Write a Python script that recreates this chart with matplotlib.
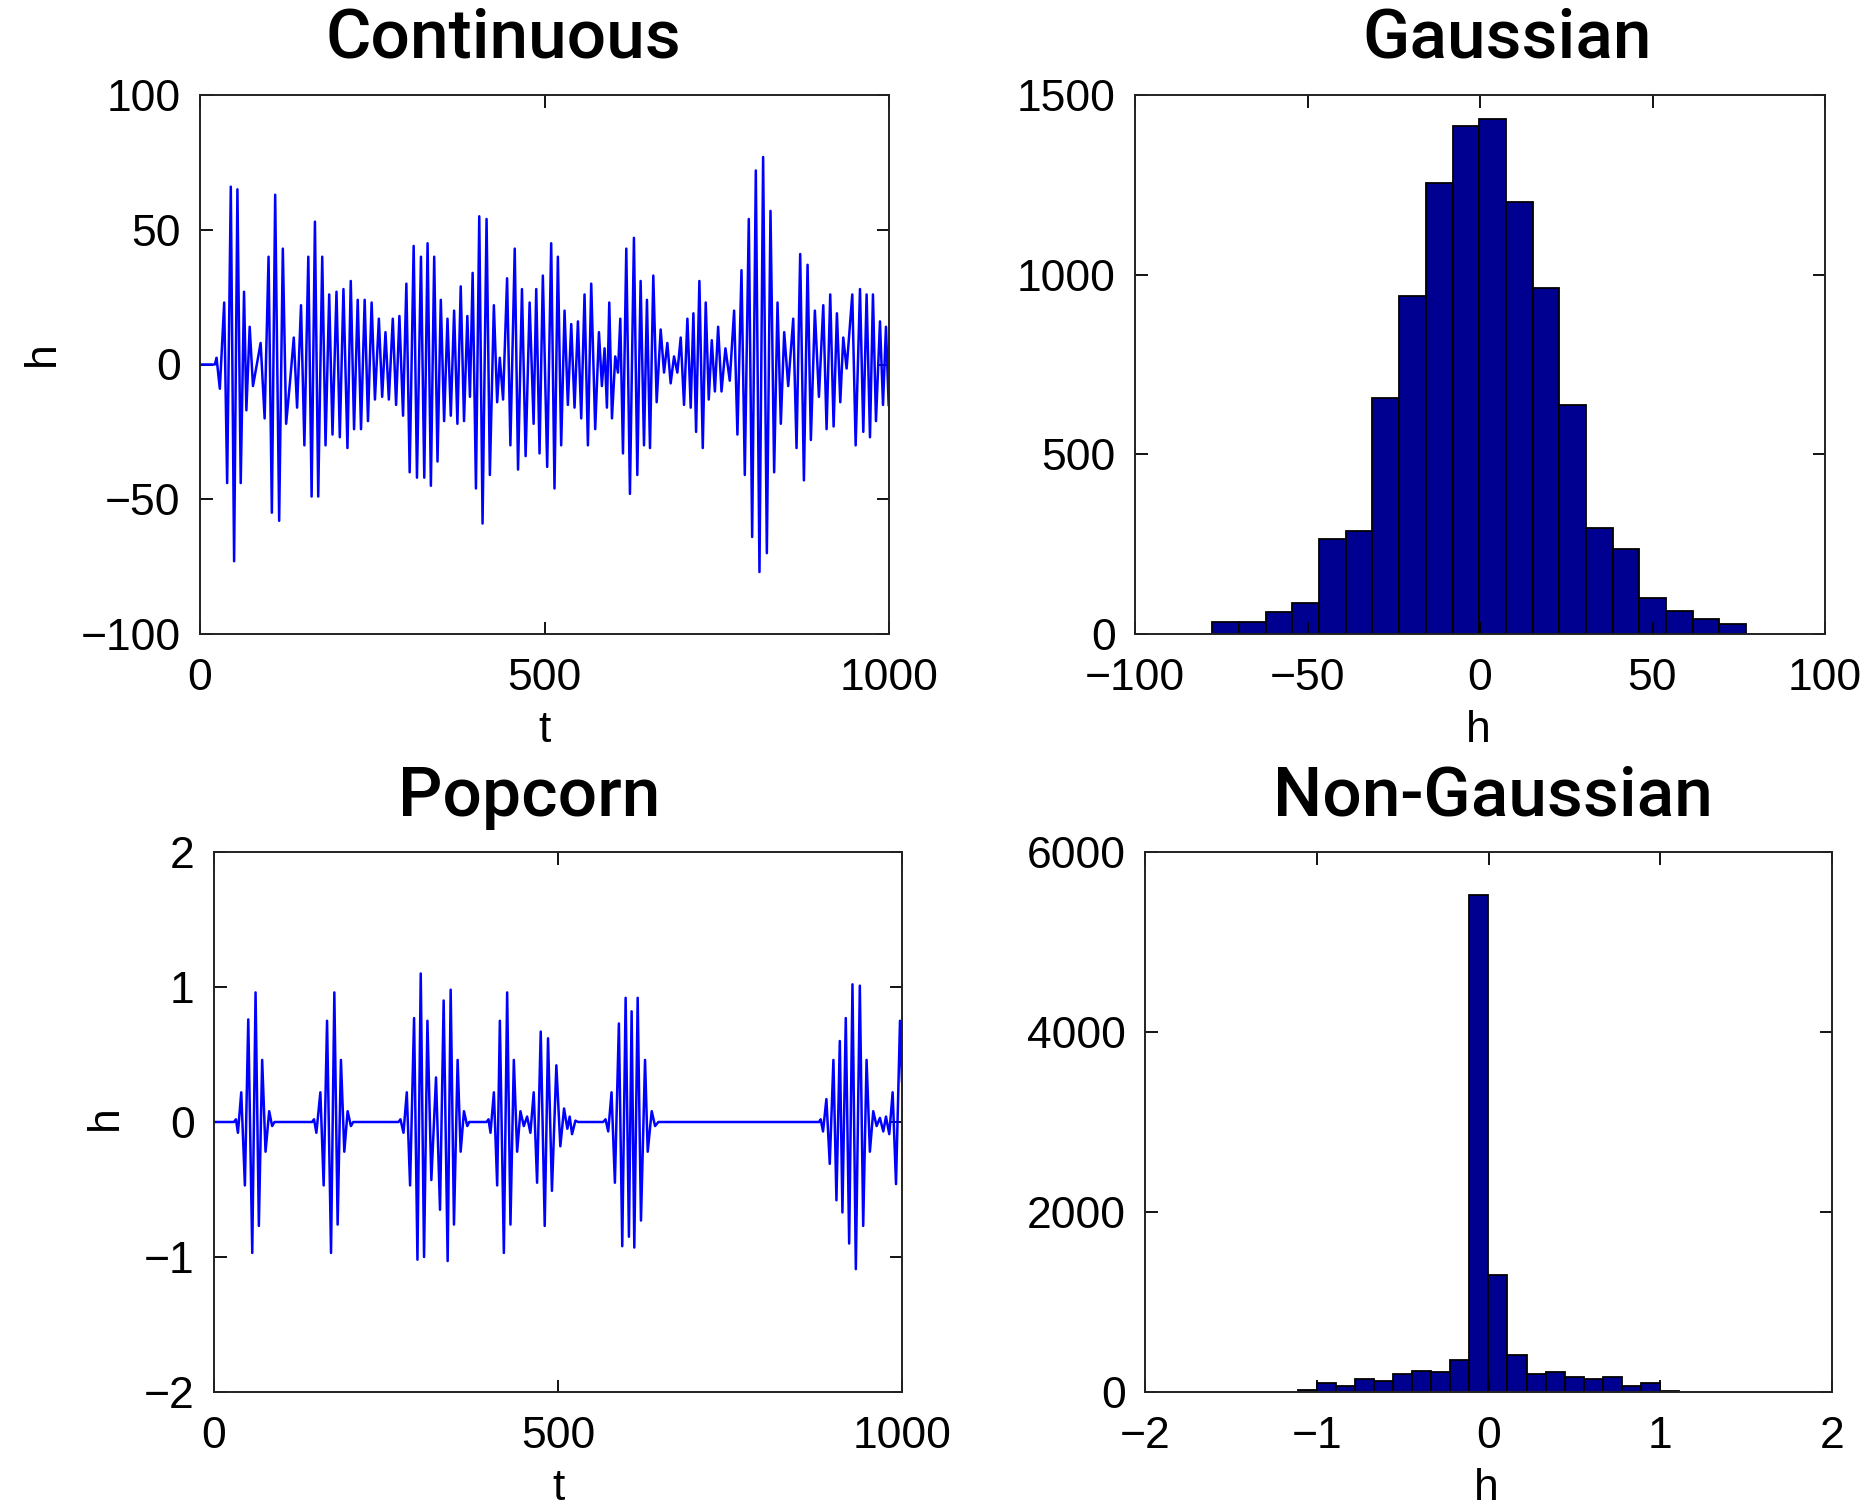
import matplotlib
matplotlib.use("Agg")
import matplotlib.pyplot as plt

plt.rcParams['font.family'] = ['Liberation Sans', 'DejaVu Sans']

# ---------------- data ----------------
# Continuous signal: local extrema (t, h)
cont_t = [0, 21.6, 24.0, 28.8, 35.1, 39.4, 44.7, 49.5, 54.3, 59.1, 63.9, 67.3, 72.1, 76.9, 88.0,
          93.8, 99.5, 104.3, 109.1, 114.9, 120.2, 125.0, 130.8, 136.1, 140.9, 146.6, 151.5, 157.2,
          162.0, 166.8, 171.6, 177.4, 182.2, 187.5, 192.3, 198.1, 202.9, 208.2, 214.0, 218.8, 223.6,
          228.9, 233.7, 239.0, 243.8, 249.1, 253.9, 259.6, 264.4, 269.2, 274.1, 279.8, 284.6, 289.4,
          294.7, 299.5, 304.3, 310.1, 314.9, 320.7, 325.5, 330.3, 335.1, 339.9, 344.7, 349.5, 354.3,
          359.2, 364.0, 368.8, 373.6, 378.4, 383.2, 388.0, 391.8, 395.7, 400.5, 405.3, 410.1, 415.9,
          420.7, 426.5, 431.3, 435.1, 439.9, 445.7, 450.5, 456.8, 461.6, 467.3, 472.6, 478.4, 484.2,
          488.0, 492.8, 497.6, 503.9, 509.7, 514.5, 519.4, 524.2, 529.1, 533.9, 538.8, 543.6, 548.5,
          553.3, 558.1, 563.0, 567.8, 573.6, 579.0, 583.3, 587.2, 590.6, 594.0, 597.9, 602.7, 606.6,
          610.0, 613.9, 618.7, 624.0, 629.8, 634.7, 639.5, 644.4, 648.7, 653.1, 657.9, 662.8, 668.6,
          673.5, 678.3, 683.1, 688.0, 692.8, 697.7, 702.5, 707.4, 712.2, 716.1, 720.0, 724.8, 729.7,
          734.0, 738.4, 742.8, 747.3, 752.0, 756.9, 762.6, 768.9, 775.2, 780.0, 785.9, 790.7, 796.5,
          801.4, 806.7, 812.0, 817.3, 822.7, 828.0, 833.3, 838.2, 843.0, 847.9, 853.7, 861.0, 865.8,
          871.1, 876.5, 881.8, 886.6, 892.4, 898.3, 904.6, 909.4, 914.7, 919.6, 924.4, 929.3, 933.6,
          938.5, 946.7, 951.6, 957.9, 962.7, 967.5, 972.4, 976.7, 981.1, 986.9, 991.3, 995.6, 999.5]
cont_h = [0, 0, 2.5, -9, 23, -44, 66, -73, 65, -44, 27, -17, 14, -8, 8,
          -20, 40, -55, 63, -58, 43, -22, -6, 10, -16, 22, -30, 40,
          -49, 53, -49, 40, -30, 26, -26, 27, -27, 28, -31, 31, -24,
          24, -24, 24, -21, 23, -13, 17, -12, 12, -13, 17, -15, 18,
          -19, 30, -40, 44, -42, 40, -42, 45, -45, 40, -36, 24, -21,
          17, -19, 20, -22, 29, -21, 18, -12, 34, -46, 55, -59, 54,
          -41, 22, -14, 2.5, -13, 32, -30, 43, -39, 28, -34, 23, -22,
          28, -33, 33, -38, 45, -46, 40, -30, 20, -15, 15, -16, 16,
          -20, 26, -30, 30, -24, 12, -8, 6, -16, 23, -20, 3, -3,
          17, -33, 43, -48, 47, -41, 31, -30, 24, -31, 33, -14, 13,
          -3, 8, -7, 3, -3, 10, -15, 17, -16, 19, -25, 31, -31,
          23, -13, 9, -10, 14, -10, 6, -6, 20, -26, 35, -41, 54,
          -64, 72, -77, 77, -70, 57, -40, 23, -22, 12, -8, 17, -31,
          41, -43, 37, -28, 20, -12, 22, -24, 26, -23, 19, -14, 10,
          -1.5, 26, -30, 28, -25, 26, -27, 26, -21, 16, -15, 14, -15]

# Popcorn signal: local extrema (t, h)
pop_t = [0, 29.0, 31.9, 34.8, 39.6, 44.9, 49.8, 55.6, 60.4, 65.2, 70.0, 74.9, 80.2, 84.5, 87.9,
         142.5, 145.4, 148.8, 154.6, 159.4, 164.3, 170.1, 174.9, 179.7, 184.5, 189.4, 194.2, 199.0, 202.4,
         268.1, 271.0, 275.4, 280.2, 285.0, 290.8, 295.7, 300.5, 305.3, 310.2, 315.9, 322.7, 328.5,
         333.8, 339.6, 344.0, 348.8, 354.1, 358.5, 363.3, 368.1, 371.0,
         396.1, 399.0, 401.9, 406.8, 411.6, 415.5, 421.3, 426.1, 430.9, 435.8, 440.6, 445.4, 450.3,
         455.1, 459.9, 464.7, 469.6, 474.9, 480.7, 485.5, 491.2, 497.6, 503.4, 508.8, 513.6, 517.0,
         520.4, 525.3, 529.2,
         565.7, 569.1, 573.0, 577.8, 582.7, 588.5, 593.4, 598.3, 603.1, 607.0, 610.9, 615.8, 620.6,
         626.5, 630.4, 636.2, 641.1, 645.9,
         879.4, 881.8, 885.2, 890.1, 895.0, 900.3, 904.7, 909.6, 913.4, 918.3, 923.2, 928.0, 932.9,
         938.7, 943.6, 948.5, 953.3, 958.2, 963.1, 967.9, 972.8, 976.7, 981.5, 986.4, 991.3, 997.1, 1000]
pop_h = [0, 0, 0.02, -0.08, 0.22, -0.47, 0.76, -0.97, 0.96, -0.77, 0.46, -0.22, 0.08, -0.03, 0,
         0, 0.02, -0.08, 0.22, -0.47, 0.75, -0.97, 0.96, -0.76, 0.46, -0.22, 0.08, -0.03, 0,
         0, 0.02, -0.08, 0.22, -0.47, 0.77, -1.02, 1.10, -1.00, 0.75, -0.43, 0.33, -0.65,
         0.90, -1.03, 0.98, -0.76, 0.46, -0.22, 0.08, -0.03, 0,
         0, 0.02, -0.08, 0.22, -0.47, 0.75, -0.97, 0.96, -0.76, 0.46, -0.22, 0.08, -0.03,
         0.04, -0.08, 0.22, -0.45, 0.67, -0.77, 0.62, -0.51, 0.42, -0.18, 0.10, -0.05, 0.04,
         -0.09, 0.01, 0,
         0, 0.02, -0.07, 0.22, -0.45, 0.73, -0.92, 0.92, -0.85, 0.82, -0.93, 0.92, -0.73,
         0.46, -0.22, 0.08, -0.03, 0,
         0, 0.02, -0.07, 0.17, -0.31, 0.46, -0.58, 0.60, -0.67, 0.77, -0.90, 1.02, -1.09,
         1.01, -0.77, 0.46, -0.22, 0.08, -0.03, 0.03, -0.07, 0.04, -0.09, 0.22, -0.46, 0.75, 0.3]

# Gaussian histogram
gauss_centers = [-73.7, -66.0, -58.2, -50.5, -42.8, -35.0, -27.3, -19.6, -11.8, -4.1,
                 3.6, 11.4, 19.1, 26.8, 34.6, 42.3, 50.0, 57.8, 65.5, 73.2]
gauss_counts = [33, 33, 60, 85, 263, 288, 656, 942, 1256, 1414,
                1434, 1203, 963, 636, 296, 236, 99, 65, 41, 27]
gauss_width = 7.73

# Non-Gaussian histogram
ng_centers = [-1.055, -0.944, -0.833, -0.722, -0.611, -0.500, -0.389, -0.278, -0.167, -0.056,
              0.055, 0.166, 0.277, 0.388, 0.499, 0.610, 0.721, 0.832, 0.943, 1.054]
ng_counts = [20, 100, 64, 148, 124, 204, 228, 224, 360, 5520,
             1304, 412, 200, 224, 172, 144, 172, 64, 100, 12]
ng_width = 0.111

titles = ["Continuous", "Gaussian", "Popcorn", "Non-Gaussian"]

# ---------------- figure ----------------
W, H = 1864, 1506
fig = plt.figure(figsize=(W / 100, H / 100), dpi=100)

TICK_FS = 32
LABEL_FS = 32
TITLE_FS = 50
LINE_BLUE = '#0000ff'
BAR_COL = '#000090'


def style(ax):
    ax.tick_params(direction='in', length=9, width=1.3, top=True, right=True,
                   labelsize=TICK_FS, pad=14)
    ax.tick_params(axis='x', pad=17)
    for s in ax.spines.values():
        s.set_linewidth(1.4)
        s.set_color('#222222')


def px(x, y):
    return x / W, 1 - y / H


ax1 = fig.add_axes([200 / W, 1 - 634 / H, 689 / W, 539 / H])
ax1.plot(cont_t, cont_h, color=LINE_BLUE, lw=1.8, solid_joinstyle='round')
ax1.set_xlim(0, 1000)
ax1.set_ylim(-100, 100)
ax1.set_xticks([0, 500, 1000])
ax1.set_yticks([-100, -50, 0, 50, 100])
style(ax1)

ax2 = fig.add_axes([1135 / W, 1 - 634 / H, 690 / W, 539 / H])
ax2.bar(gauss_centers, gauss_counts, width=gauss_width, color=BAR_COL,
        edgecolor='black', linewidth=1.3)
ax2.set_xlim(-100, 100)
ax2.set_ylim(0, 1500)
ax2.set_xticks([-100, -50, 0, 50, 100])
ax2.set_yticks([0, 500, 1000, 1500])
style(ax2)

ax3 = fig.add_axes([214 / W, 1 - 1392 / H, 688 / W, 540 / H])
ax3.plot(pop_t, pop_h, color=LINE_BLUE, lw=1.8, solid_joinstyle='round')
ax3.set_xlim(0, 1000)
ax3.set_ylim(-2, 2)
ax3.set_xticks([0, 500, 1000])
ax3.set_yticks([-2, -1, 0, 1, 2])
style(ax3)

ax4 = fig.add_axes([1145 / W, 1 - 1392 / H, 687 / W, 540 / H])
ax4.bar(ng_centers, ng_counts, width=ng_width, color=BAR_COL,
        edgecolor='black', linewidth=1.3)
ax4.set_xlim(-2, 2)
ax4.set_ylim(0, 6000)
ax4.set_xticks([-2, -1, 0, 1, 2])
ax4.set_yticks([0, 2000, 4000, 6000])
style(ax4)

# titles
title_pos = [(503, 39), (1507, 39), (529, 797), (1493, 797)]
for txt, (x, y) in zip(titles, title_pos):
    fig.text(*px(x, y), txt, ha='center', va='center', fontsize=TITLE_FS,
             family=['Roboto', 'DejaVu Sans'], fontweight='medium')

# axis labels
fig.text(*px(42, 354), 'h', ha='center', va='center', rotation=90, fontsize=LABEL_FS)
fig.text(*px(545, 731), 't', ha='center', va='center', fontsize=LABEL_FS)
fig.text(*px(1478, 731), 'h', ha='center', va='center', fontsize=LABEL_FS)
fig.text(*px(105, 1118), 'h', ha='center', va='center', rotation=90, fontsize=LABEL_FS)
fig.text(*px(559, 1489), 't', ha='center', va='center', fontsize=LABEL_FS)
fig.text(*px(1486, 1489), 'h', ha='center', va='center', fontsize=LABEL_FS)

fig.savefig('out.png', dpi=100)
